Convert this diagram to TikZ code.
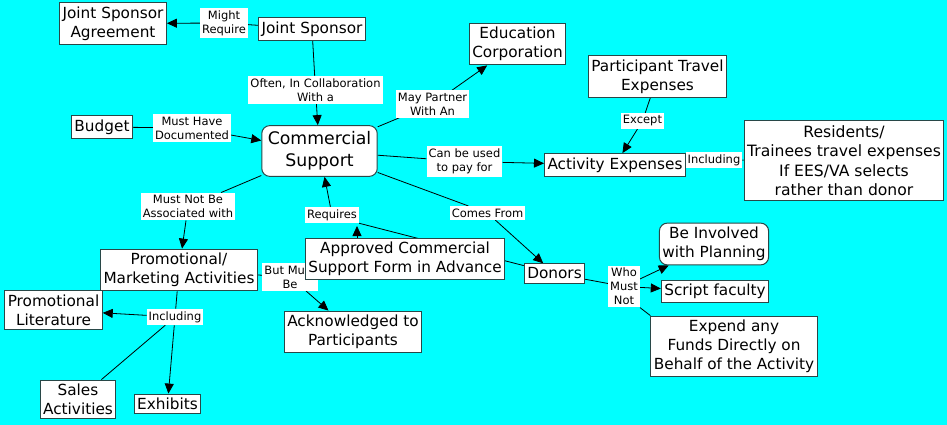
\documentclass[tikz,border=0pt]{standalone}
\usepackage{fontspec}
\setmainfont{DejaVu Sans}
\usetikzlibrary{positioning,arrows.meta,backgrounds}
\definecolor{mapbg}{RGB}{0,255,255}
\definecolor{mapedge}{RGB}{40,72,72}

\begin{document}
\begin{tikzpicture}[
  x=1pt, y=-1pt,
  concept/.style={draw=mapedge, fill=white, line width=1pt, align=center,
    inner xsep=3pt, inner ysep=4pt, font=\fontsize{15.3}{19}\selectfont},
  rconcept/.style={concept, rounded corners=8pt},
  link/.style={fill=white, align=center, inner xsep=2pt, inner ysep=2.5pt,
    font=\fontsize{11.5}{14}\selectfont},
  con/.style={line width=0.8pt},
  arr/.style={con, -{Triangle[length=10pt,width=9pt]}}
]
\useasboundingbox (0,0) rectangle (947,425);

% linking phrases (under the concepts)
\node[link] (mightreq) at (224,23) {Might\\Require};
\node[link] (often) at (315.5,90) {Often, In Collaboration\\With a};
\node[link] (musthave) at (192,128) {Must Have\\Documented};
\node[link] (maypartner) at (432.5,104) {May Partner\\With An};
\node[link] (except) at (642.5,121) {Except};
\node[link] (canbeused) at (464.5,161.5) {Can be used\\to pay for};
\node[link] (incl1) at (714,160) {Including};
\node[link] (comesfrom) at (487.5,213) {Comes From};
\node[link] (requires) at (332,215) {Requires};
\node[link] (mustnot) at (188,206.5) {Must Not Be\\Associated with};
\node[link] (butmust) at (290,277) {But Must\\Be};
\node[link] (incl2) at (175,317) {Including};
\node[link] (whomust) at (624,286.5) {Who\\Must\\Not};

% concepts
\node[concept] (jsa) at (113,23.5) {Joint Sponsor\\Agreement};
\node[concept] (js) at (312,29) {Joint Sponsor};
\node[rconcept, font=\fontsize{17.3}{22}\selectfont, inner xsep=6pt, inner ysep=6pt] (cs) at (319.5,151) {Commercial\\Support};
\node[concept] (budget) at (102,127) {Budget};
\node[concept] (edu) at (517.5,44) {Education\\Corporation};
\node[concept] (ptravel) at (657.5,76.5) {Participant Travel\\Expenses};
\node[concept] (actexp) at (615,165) {Activity Expenses};
\node[concept, inner ysep=5pt, font=\fontsize{15.6}{19.5}\selectfont] (residents) at (844,160.5) {Residents/\\Trainees travel expenses\\If EES/VA selects\\rather than donor};
\node[concept] (donors) at (554.5,273.5) {Donors};
\node[concept] (approved) at (405,259) {Approved Commercial\\Support Form in Advance};
\node[concept] (promo) at (179,270) {Promotional/\\Marketing Activities};
\node[concept] (ack) at (353,332) {Acknowledged to\\Participants};
\node[concept] (plit) at (53.5,310) {Promotional\\Literature};
\node[concept] (sales) at (78,399.5) {Sales\\Activities};
\node[concept] (exhibits) at (167.5,404) {Exhibits};
\node[rconcept] (beinv) at (714,244) {Be Involved\\with Planning};
\node[concept] (script) at (715,291.5) {Script faculty};
\node[concept] (expend) at (734,346.5) {Expend any\\Funds Directly on\\Behalf of the Activity};
\coordinate (reqtip) at (357,226);

\begin{pgfonlayer}{background}
\fill[mapbg] (0,0) rectangle (947,425);
% links
\draw[con] (js) -- (mightreq);
\draw[arr] (mightreq) -- (jsa);
\draw[con] (js) -- (often);
\draw[arr] (often) -- (cs);
\draw[con] (budget) -- (musthave);
\draw[arr] (musthave) -- (cs);
\draw[con] (cs) -- (maypartner);
\draw[arr] (maypartner) -- (edu);
\draw[con] (cs) -- (canbeused);
\draw[arr] (canbeused) -- (actexp);
\draw[con] (ptravel) -- (except);
\draw[arr] (except) -- (actexp);
\draw[con] (actexp) -- (incl1);
\draw[con] (incl1) -- (residents);
\draw[con] (cs) -- (comesfrom);
\draw[arr] (comesfrom) -- (donors);
\draw[con] (donors) -- (requires.south east);
\draw[arr] (requires) -- (cs);
\draw[arr] (approved.north -| reqtip) -- (reqtip);
\draw[con] (cs) -- (mustnot);
\draw[arr] (mustnot) -- (promo);
\draw[con] (promo) -- (butmust);
\draw[arr] (butmust) -- (ack);
\draw[con] (promo) -- (incl2);
\draw[arr] (incl2) -- (plit);
\draw[con] (incl2) -- (sales);
\draw[arr] (incl2) -- (exhibits);
\draw[con] (donors) -- (whomust);
\draw[arr] (whomust) -- (beinv);
\draw[arr] (whomust) -- (script);
\draw[con] (whomust.south east) -- (expend.north west);
\end{pgfonlayer}
\end{tikzpicture}
\end{document}
